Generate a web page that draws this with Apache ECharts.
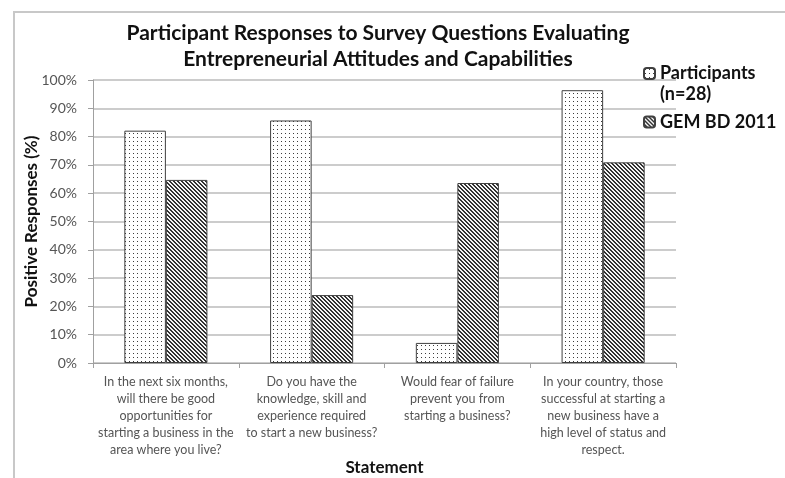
<!DOCTYPE html>
<html>
<head>
<meta charset="utf-8">
<script src="https://cdn.jsdelivr.net/npm/echarts@6/dist/echarts.min.js"></script>
<style>
html,body{margin:0;padding:0;background:#fff;}
#chart{width:785px;height:478px;}
</style>
</head>
<body>
<div id="chart"></div>
<script>
// ---- data ----
const categories = [
  "In the next six months,\nwill there be good\nopportunities for\nstarting a business in the\narea where you live?",
  "Do you have the\nknowledge, skill and\nexperience required\nto start a new business?",
  "Would fear of failure\nprevent you from\nstarting a business?",
  "In your country, those\nsuccessful at starting a\nnew business have a\nhigh level of status and\nrespect."
];
const participants = [82.1, 85.7, 7.1, 96.4];
const gem2011 = [64.7, 24.0, 63.6, 70.9];
const yTicks = [0, 10, 20, 30, 40, 50, 60, 70, 80, 90, 100];
const seriesNames = ["Participants (n=28)", "GEM BD 2011"];

// ---- patterns ----
function makePattern(size, fn) {
  const c = document.createElement('canvas');
  c.width = size; c.height = size;
  const ctx = c.getContext('2d');
  const img = ctx.createImageData(size, size);
  for (let y = 0; y < size; y++) {
    for (let x = 0; x < size; x++) {
      const v = fn(x, y);
      const i = (y * size + x) * 4;
      img.data[i] = v; img.data[i+1] = v; img.data[i+2] = v; img.data[i+3] = 255;
    }
  }
  ctx.putImageData(img, 0, 0);
  return c;
}
const dotCanvas = makePattern(4, (x, y) => (x === 1 && y === 1) ? 60 : 255);
const stripeCanvas = makePattern(4, (x, y) => {
  const d = ((x - y) % 4 + 4) % 4;
  return (d === 0 || d === 1) ? 50 : 245;
});
const dotFill = { image: dotCanvas, repeat: 'repeat' };
const stripeFill = { image: stripeCanvas, repeat: 'repeat' };

const chart = echarts.init(document.getElementById('chart'), null, { renderer: 'canvas' });
const FONT = 'Lato, "Open Sans", sans-serif';

chart.setOption({
  animation: false,
  backgroundColor: '#fff',
  textStyle: { fontFamily: FONT },
  graphic: [{
    type: 'rect',
    shape: { x: 14, y: 12, width: 800, height: 500 },
    style: { fill: 'none', stroke: '#c8c8c8', lineWidth: 2 },
    silent: true
  }],
  title: {
    text: 'Participant Responses to Survey Questions Evaluating\nEntrepreneurial Attitudes and Capabilities',
    left: 373, top: 15, textAlign: 'center',
    textStyle: { fontFamily: FONT, fontSize: 21, fontWeight: 'bold', color: '#111', lineHeight: 26 }
  },
  legend: [{
    data: [seriesNames[0]],
    orient: 'vertical', left: 643, top: 42, padding: 0,
    itemWidth: 11, itemHeight: 11,
    formatter: n => '\n' + n.replace(' (', '\n('),
    textStyle: { fontFamily: FONT, fontSize: 18, fontWeight: 'bold', color: '#111', lineHeight: 21 }
  }, {
    data: [seriesNames[1]],
    orient: 'vertical', left: 643, top: 111, padding: 0,
    itemWidth: 11, itemHeight: 11,
    textStyle: { fontFamily: FONT, fontSize: 18, fontWeight: 'bold', color: '#111', lineHeight: 22 }
  }],
  grid: { left: 93, right: 109, top: 80, bottom: 115, containLabel: false, outerBoundsMode: 'none' },
  xAxis: {
    type: 'category',
    data: categories,
    name: 'Statement',
    nameLocation: 'middle',
    nameGap: 96,
    nameMoveOverlap: false,
    nameTextStyle: { fontFamily: FONT, fontSize: 17, fontWeight: 'bold', color: '#111' },
    axisLine: { show: true, lineStyle: { color: '#a0a0a0', width: 1 } },
    axisTick: { show: true, alignWithLabel: false, length: 5, lineStyle: { color: '#a0a0a0' } },
    axisLabel: { interval: 0, fontFamily: FONT, fontSize: 12.5, color: '#555', lineHeight: 17, margin: 10, align: 'center' }
  },
  yAxis: {
    type: 'value',
    min: 0, max: 100, interval: 10,
    name: 'Positive Responses (%)',
    nameLocation: 'middle',
    nameGap: 53,
    nameMoveOverlap: false,
    nameRotate: 90,
    nameTextStyle: { fontFamily: FONT, fontSize: 17, fontWeight: 'bold', color: '#111' },
    axisLine: { show: true, lineStyle: { color: '#a0a0a0', width: 1 } },
    axisTick: { show: true, length: 5, lineStyle: { color: '#a0a0a0' } },
    axisLabel: { fontFamily: FONT, fontSize: 14, color: '#555', margin: 16, formatter: v => yTicks.includes(v) ? v + '%' : '' },
    splitLine: { show: true, lineStyle: { color: '#cccccc', width: 2 } }
  },
  series: [{
    name: seriesNames[0],
    type: 'bar',
    data: participants,
    barGap: '0%',
    barCategoryGap: '43%',
    itemStyle: { color: dotFill, borderColor: '#404040', borderWidth: 1 }
  }, {
    name: seriesNames[1],
    type: 'bar',
    data: gem2011,
    itemStyle: { color: stripeFill, borderColor: '#404040', borderWidth: 1 }
  }]
});
</script>
</body>
</html>
